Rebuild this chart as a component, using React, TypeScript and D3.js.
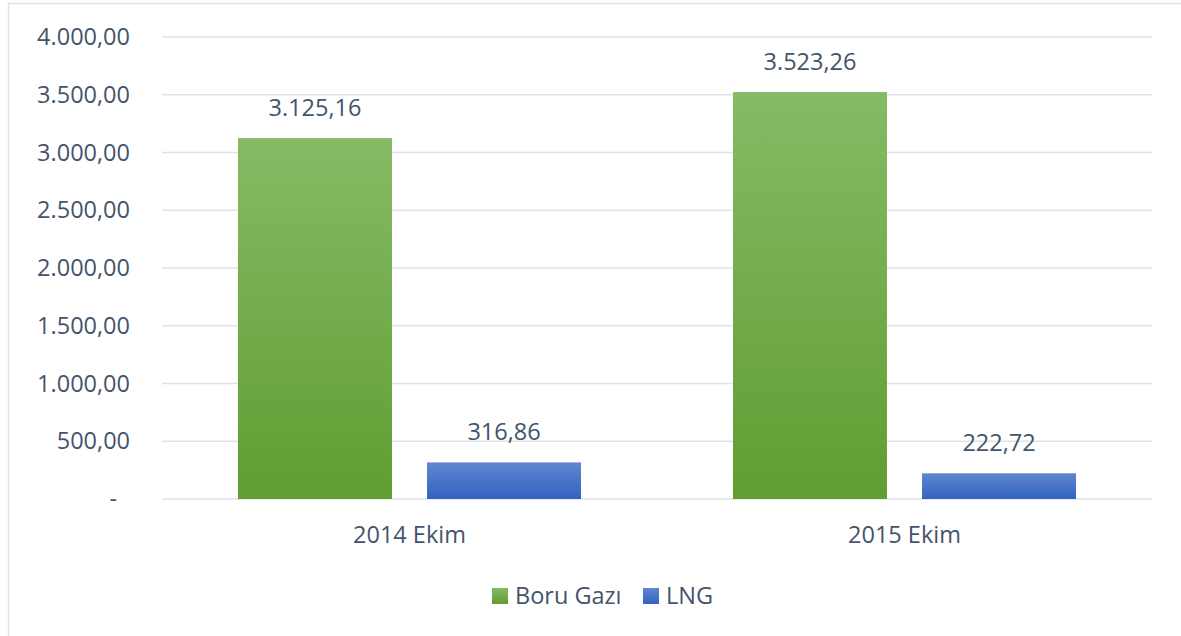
import React, { useEffect, useRef } from "react";
import * as d3 from "d3";

// values
const categories = ["2014 Ekim", "2015 Ekim"];
const boruGazi = [3125.16, 3523.26];
const lng = [316.86, 222.72];
const seriesNames = ["Boru Gazı", "LNG"];
const yTicks = [0, 500, 1000, 1500, 2000, 2500, 3000, 3500, 4000];

const W = 1181;
const H = 636;
const textColor = "#44546a";
const font = "'Open Sans', 'Noto Sans', sans-serif";
const fontSize = "23.5px";

// turkish number format: 3.125,16
const trFormat = d3.formatLocale({
  decimal: ",",
  thousands: ".",
  grouping: [3],
  currency: ["", "₺"],
}).format(",.2f");

export default function App() {
  const ref = useRef<SVGSVGElement>(null);

  useEffect(() => {
    const svg = d3.select(ref.current);
    svg.selectAll("*").remove();

    const margin = { top: 37, right: 29, bottom: 137, left: 162 };
    const width = W - margin.left - margin.right;
    const height = H - margin.top - margin.bottom;

    // gradients
    const defs = svg.append("defs");
    const grads = [
      { id: "gGreen", top: "#86ba66", bottom: "#5f9e31" },
      { id: "gBlue", top: "#6186d0", bottom: "#3262c0" },
    ];
    grads.forEach((g) => {
      const lg = defs.append("linearGradient").attr("id", g.id)
        .attr("x1", 0).attr("y1", 0).attr("x2", 0).attr("y2", 1);
      lg.append("stop").attr("offset", "0%").attr("stop-color", g.top);
      lg.append("stop").attr("offset", "100%").attr("stop-color", g.bottom);
    });

    // frame
    svg.append("rect")
      .attr("x", 8.5).attr("y", 3.5)
      .attr("width", W - 6).attr("height", H - 1)
      .attr("fill", "white").attr("stroke", "#dde2e8").attr("stroke-width", 1.5);

    const g = svg.append("g").attr("transform", `translate(${margin.left},${margin.top})`);

    const y = d3.scaleLinear().domain([0, 4000]).range([height, 0]);
    const x0 = d3.scaleBand().domain(categories).range([0, width]).paddingInner(0).paddingOuter(0);
    const x1 = d3.scaleBand().domain(seriesNames).range([76, x0.bandwidth() - 76]).paddingInner(0.1855);

    // gridlines
    g.selectAll("line.grid")
      .data(yTicks)
      .enter()
      .append("line")
      .attr("x1", 0).attr("x2", width)
      .attr("y1", (d) => y(d)).attr("y2", (d) => y(d))
      .attr("stroke", "#dfe3e9").attr("stroke-width", 1.5);

    // y labels
    g.selectAll("text.ytick")
      .data(yTicks)
      .enter()
      .append("text")
      .attr("x", (d) => (d === 0 ? -45 : -32))
      .attr("y", (d) => y(d))
      .attr("dy", "0.35em")
      .attr("text-anchor", "end")
      .attr("fill", textColor)
      .style("font-family", font)
      .style("font-size", fontSize)
      .text((d) => (d === 0 ? "-" : trFormat(d)));

    const rows = categories.map((c, i) => ({
      cat: c,
      vals: [
        { name: seriesNames[0], value: boruGazi[i], fill: "url(#gGreen)" },
        { name: seriesNames[1], value: lng[i], fill: "url(#gBlue)" },
      ],
    }));

    const groups = g.selectAll("g.cat")
      .data(rows)
      .enter()
      .append("g")
      .attr("transform", (d) => `translate(${x0(d.cat)},0)`);

    groups.selectAll("rect")
      .data((d) => d.vals)
      .enter()
      .append("rect")
      .attr("x", (d) => x1(d.name)!)
      .attr("width", x1.bandwidth())
      .attr("y", (d) => y(d.value))
      .attr("height", (d) => height - y(d.value))
      .attr("fill", (d) => d.fill);

    groups.selectAll("text.val")
      .data((d) => d.vals)
      .enter()
      .append("text")
      .attr("x", (d) => x1(d.name)! + x1.bandwidth() / 2)
      .attr("y", (d) => y(d.value) - 22)
      .attr("text-anchor", "middle")
      .attr("fill", textColor)
      .style("font-family", font)
      .style("font-size", fontSize)
      .text((d) => trFormat(d.value));

    // category labels
    g.selectAll("text.cat")
      .data(categories)
      .enter()
      .append("text")
      .attr("x", (d) => x0(d)! + x0.bandwidth() / 2)
      .attr("y", height + 36)
      .attr("dy", "0.35em")
      .attr("text-anchor", "middle")
      .attr("fill", textColor)
      .style("font-family", font)
      .style("font-size", fontSize)
      .text((d) => d);

    // legend
    const legend = svg.append("g").attr("transform", "translate(492,596)");
    const items = [
      { name: seriesNames[0], fill: "url(#gGreen)", x: 0 },
      { name: seriesNames[1], fill: "url(#gBlue)", x: 151 },
    ];
    items.forEach((it) => {
      legend.append("rect")
        .attr("x", it.x).attr("y", -8)
        .attr("width", 16).attr("height", 16)
        .attr("fill", it.fill);
      legend.append("text")
        .attr("x", it.x + 23).attr("y", 0)
        .attr("dy", "0.35em")
        .attr("fill", textColor)
        .style("font-family", font)
        .style("font-size", fontSize)
        .text(it.name);
    });
  }, []);

  return (
    <svg
      ref={ref}
      width={W}
      height={H}
      style={{ position: "absolute", left: 0, top: 0, background: "white" }}
    />
  );
}
